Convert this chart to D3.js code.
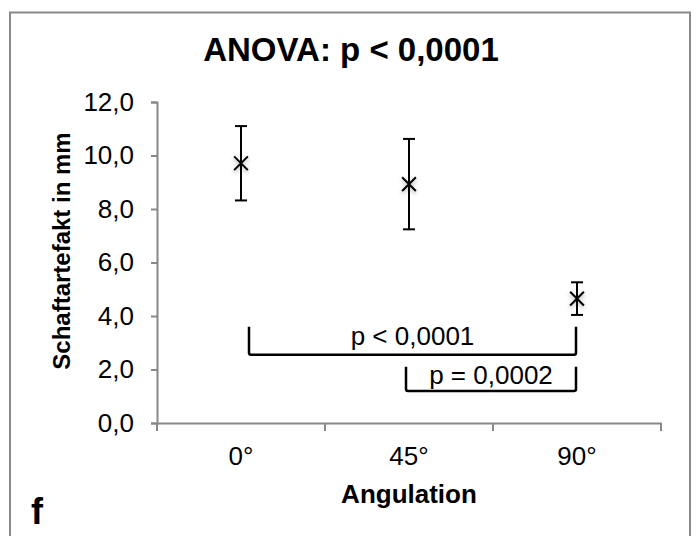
<!DOCTYPE html>
<html lang="de">
<head>
    <meta charset="UTF-8">
    <title>Schaftartefakt</title>
    <script src="https://d3js.org/d3.v7.min.js"></script>
    <style>
        body { margin: 0; background: #fff; }
        svg { display: block; font-family: "Liberation Sans", Arial, sans-serif; }
    </style>
</head>
<body>
    <script>
        const w = 697;
        const h = 536;

        // data
        const categories = ["0°", "45°", "90°"];
        const means = [9.71, 8.93, 4.65];
        const errors = [1.39, 1.69, 0.61];
        const yTicks = [0, 2, 4, 6, 8, 10, 12];

        // significance brackets (from, to, top value, bottom value, label)
        const bracketFrom = ["0°", "45°"];
        const bracketTo = ["90°", "90°"];
        const bracketTop = [3.6, 2.1];
        const bracketBottom = [2.55, 1.2];
        const bracketLabels = ["p < 0,0001", "p = 0,0002"];

        const margin = { left: 157, right: 36, top: 102, bottom: 113 };
        const axisColor = "#888888";

        const svg = d3.select("body")
                      .append("svg")
                      .attr("width", w)
                      .attr("height", h);

        // drop shadow for the markers
        const filter = svg.append("defs").append("filter")
                          .attr("id", "shadow")
                          .attr("x", "-50%").attr("y", "-50%")
                          .attr("width", "200%").attr("height", "200%");
        filter.append("feDropShadow")
              .attr("dx", 0).attr("dy", 2)
              .attr("stdDeviation", 2.2)
              .attr("flood-color", "#000")
              .attr("flood-opacity", 0.35);

        // outer frame
        svg.append("rect")
           .attr("x", 10)
           .attr("y", 12.5)
           .attr("width", 680)
           .attr("height", h)
           .attr("fill", "none")
           .attr("stroke", "#8a8a8a")
           .attr("stroke-width", 2);

        const xScale = d3.scaleBand()
                         .domain(categories)
                         .range([margin.left, w - margin.right])
                         .padding(0);

        const yScale = d3.scaleLinear()
                         .domain([0, 12])
                         .range([h - margin.bottom, margin.top]);

        // y axis
        const yAxis = d3.axisLeft(yScale)
                        .tickValues(yTicks)
                        .tickSize(6)
                        .tickPadding(17)
                        .tickFormat(d => d3.format(".1f")(d).replace(".", ","));

        const gy = svg.append("g")
                      .attr("transform", `translate(${margin.left}, 0)`)
                      .call(yAxis);

        // x axis (labels centred in the bands)
        const xAxis = d3.axisBottom(xScale)
                        .tickSize(0)
                        .tickPadding(24);

        const gx = svg.append("g")
                      .attr("transform", `translate(0, ${h - margin.bottom})`)
                      .call(xAxis);

        // ticks on the band boundaries
        const boundaries = d3.range(categories.length + 1)
                             .map(i => xScale.range()[0] + i * xScale.step());
        gx.selectAll(".boundary")
          .data(boundaries)
          .enter()
          .append("line")
          .attr("class", "boundary")
          .attr("x1", d => d)
          .attr("x2", d => d)
          .attr("y1", 0)
          .attr("y2", 8);

        [gx, gy].forEach(g => {
            g.selectAll("path, line")
             .attr("stroke", axisColor)
             .attr("stroke-width", 2);
            g.selectAll("text")
             .attr("fill", "#000")
             .style("font-size", "26px")
             .style("font-family", "'Liberation Sans', Arial, sans-serif");
        });

        // error bars
        const cx = d => xScale(d) + xScale.bandwidth() / 2;
        const bars = svg.append("g")
                        .attr("stroke", "#000")
                        .attr("stroke-width", 2);

        categories.forEach((c, i) => {
            const x = cx(c);
            const top = yScale(means[i] + errors[i]);
            const bot = yScale(means[i] - errors[i]);
            bars.append("line").attr("x1", x).attr("x2", x).attr("y1", top).attr("y2", bot);
            bars.append("line").attr("x1", x - 6).attr("x2", x + 6).attr("y1", top).attr("y2", top);
            bars.append("line").attr("x1", x - 6).attr("x2", x + 6).attr("y1", bot).attr("y2", bot);
        });

        // x markers
        svg.append("g")
           .selectAll("path")
           .data(categories)
           .enter()
           .append("path")
           .attr("d", d3.symbol().type(d3.symbolX).size(125))
           .attr("transform", (d, i) => `translate(${cx(d)}, ${yScale(means[i])})`)
           .attr("fill", "none")
           .attr("stroke", "#000")
           .attr("stroke-width", 2)
           .attr("filter", "url(#shadow)");

        // significance brackets
        const brackets = svg.append("g");
        bracketLabels.forEach((label, i) => {
            const x1 = cx(bracketFrom[i]) + (i === 0 ? 8 : -3);
            const x2 = cx(bracketTo[i]) - 1;
            const yTop = yScale(bracketTop[i]);
            const yBot = yScale(bracketBottom[i]);
            brackets.append("path")
                    .attr("d", `M${x1},${yTop} L${x1},${yBot - 2} Q${x1},${yBot} ${x1 + 2},${yBot} L${x2 - 2},${yBot} Q${x2},${yBot} ${x2},${yBot - 2} L${x2},${yTop}`)
                    .attr("fill", "none")
                    .attr("stroke", "#000")
                    .attr("stroke-width", 2.5);
            brackets.append("text")
                    .attr("x", (x1 + x2) / 2)
                    .attr("y", yBot - (i === 0 ? 10 : 7))
                    .attr("text-anchor", "middle")
                    .style("font-size", "26px")
                    .text(label);
        });

        // title
        svg.append("text")
           .attr("x", 351)
           .attr("y", 61)
           .attr("text-anchor", "middle")
           .style("font-size", "33px")
           .style("font-weight", "bold")
           .text("ANOVA: p < 0,0001");

        // axis titles
        svg.append("text")
           .attr("x", 409)
           .attr("y", 503)
           .attr("text-anchor", "middle")
           .style("font-size", "26px")
           .style("font-weight", "bold")
           .text("Angulation");

        svg.append("text")
           .attr("transform", "translate(70, 251) rotate(-90)")
           .attr("text-anchor", "middle")
           .style("font-size", "24px")
           .style("font-weight", "bold")
           .text("Schaftartefakt in mm");

        // panel letter
        svg.append("text")
           .attr("x", 31)
           .attr("y", 524)
           .style("font-size", "36px")
           .style("font-weight", "bold")
           .text("f");
    </script>
</body>
</html>
